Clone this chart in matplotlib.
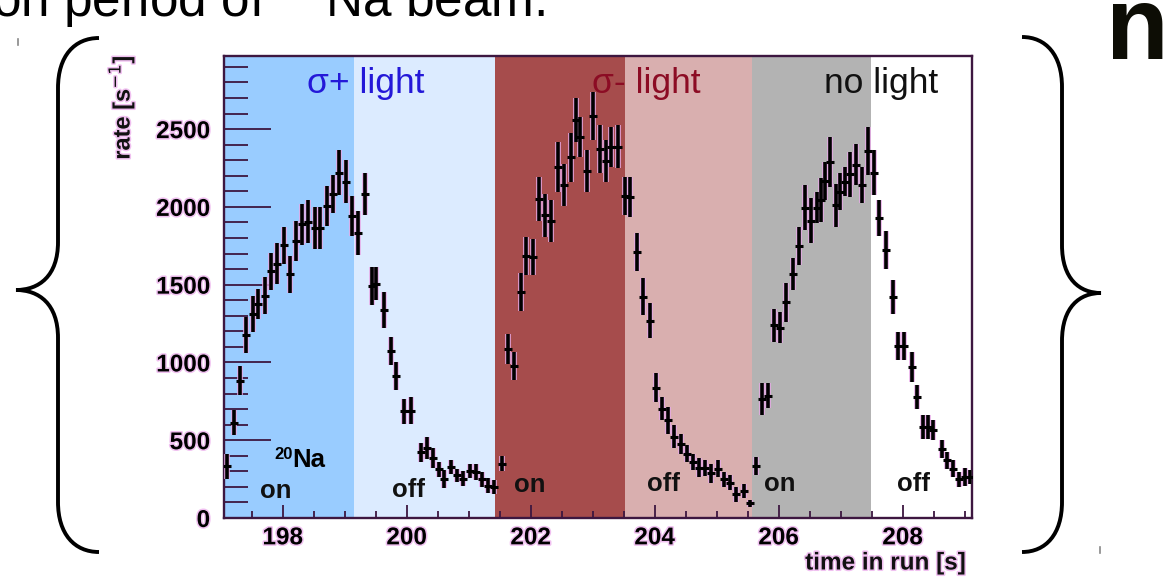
import matplotlib
matplotlib.use("Agg")
import matplotlib.pyplot as plt
import matplotlib.patheffects as pe
from matplotlib.path import Path
from matplotlib.patches import PathPatch
from matplotlib.lines import Line2D
from matplotlib.ticker import MultipleLocator

# ---- measured count rate (time in run [s], rate [1/s], error [1/s]) ----
time_s = [
    197.10, 197.21, 197.32, 197.41, 197.52, 197.61, 197.71, 197.82, 197.91, 198.02,
    198.12, 198.22, 198.31, 198.41, 198.52, 198.61, 198.72, 198.82, 198.91, 199.02,
    199.12, 199.22, 199.33, 199.44, 199.51, 199.63, 199.74, 199.83, 199.95, 200.07,
    200.23, 200.33, 200.42, 200.53, 200.61, 200.72, 200.82, 200.91, 201.02, 201.12,
    201.22, 201.32, 201.41, 201.54, 201.63, 201.73, 201.84, 201.93, 202.04, 202.13,
    202.23, 202.33, 202.44, 202.54, 202.65, 202.74, 202.80, 202.91, 203.01, 203.12,
    203.21, 203.30, 203.41, 203.52, 203.61, 203.71, 203.82, 203.92, 204.02, 204.12,
    204.22, 204.32, 204.42, 204.53, 204.62, 204.72, 204.82, 204.91, 205.02, 205.12,
    205.22, 205.32, 205.44, 205.54, 205.63, 205.74, 205.83, 205.92, 206.02, 206.12,
    206.23, 206.33, 206.42, 206.53, 206.62, 206.69, 206.75, 206.83, 206.92, 206.99,
    207.07, 207.15, 207.25, 207.34, 207.435, 207.54, 207.62, 207.73, 207.84, 207.92,
    208.02, 208.15, 208.24, 208.33, 208.41, 208.49, 208.63, 208.72, 208.82, 208.91,
    209.00, 209.09,
]
rate = [
    333, 612, 882, 1178, 1311, 1376, 1430, 1585, 1636, 1754,
    1566, 1780, 1888, 1904, 1866, 1864, 2006, 2083, 2220, 2161,
    1941, 1832, 2081, 1493, 1507, 1338, 1073, 912, 687, 690,
    422, 452, 388, 313, 251, 330, 274, 253, 302, 296,
    249, 206, 199, 349, 1089, 978, 1454, 1683, 1677, 2052,
    1947, 1910, 2258, 2140, 2318, 2558, 2449, 2232, 2586, 2371,
    2296, 2386, 2386, 2071, 2065, 1709, 1422, 1269, 838, 703,
    628, 523, 478, 414, 360, 324, 319, 287, 317, 249,
    227, 152, 176, 94, 332, 765, 787, 1239, 1224, 1387,
    1567, 1750, 1996, 1912, 1996, 2043, 2167, 2288, 2009, 2097,
    2163, 2210, 2272, 2142, 2360, 2221, 1927, 1722, 1422, 1106,
    1106, 971, 778, 585, 585, 564, 442, 371, 317, 249,
    262, 264,
]
rate_err = [
    80, 80, 93, 115, 115, 99, 120, 121, 129, 118,
    117, 129, 130, 139, 134, 136, 128, 121, 145, 139,
    128, 143, 134, 121, 107, 116, 91, 91, 80, 88,
    61, 70, 64, 48, 56, 45, 43, 49, 48, 49,
    48, 48, 47, 47, 96, 88, 122, 121, 115, 143,
    139, 134, 161, 134, 155, 139, 126, 134, 155, 155,
    134, 129, 139, 123, 129, 121, 118, 110, 91, 75,
    86, 73, 64, 54, 54, 59, 51, 62, 54, 48,
    48, 48, 45, 24, 57, 100, 83, 107, 102, 125,
    102, 123, 145, 143, 100, 140, 123, 159, 137, 118,
    94, 145, 132, 116, 155, 145, 116, 124, 111, 91,
    91, 96, 75, 75, 75, 64, 59, 54, 54, 48,
    57, 43,
]

# laser / beam phases: boundaries and fill colours
phase_edges = [197.0, 199.15, 201.42, 203.52, 205.575, 207.49]
phase_colors = ["#99ccff", "#dcebff", "#a64c4c", "#d9afaf", "#b3b3b3"]

W, H = 1166, 580
fig = plt.figure(figsize=(W / 100, H / 100), dpi=100)
fig.patch.set_facecolor("white")


def fx(px):
    return px / W


def fy(py):
    return 1 - py / H


ax = fig.add_axes([fx(224), fy(518), fx(972) - fx(224), fy(56) - fy(518)])
ax.set_xlim(197.054, 209.12)
ax.set_ylim(0, 2970)

for (a, b), c in zip(zip(phase_edges[:-1], phase_edges[1:]), phase_colors):
    ax.axvspan(a, b, color=c, lw=0, zorder=0)

halo = [pe.Stroke(linewidth=4.0, foreground="#e7a9e7"), pe.Normal()]
eb = ax.errorbar(time_s, rate, yerr=rate_err, fmt="none", ecolor="black",
                 elinewidth=2.6, capsize=0, zorder=3)
for lc in eb[2]:
    lc.set_path_effects(halo)
ax.plot(time_s, rate, ls="none", marker="_", ms=6, mew=2.2, color="black", zorder=4)

frame_col = "#3d1740"
for s in ax.spines.values():
    s.set_color(frame_col)
    s.set_linewidth(1.7)

ax.xaxis.set_major_locator(MultipleLocator(2))
ax.xaxis.set_minor_locator(MultipleLocator(0.5))
ax.yaxis.set_major_locator(MultipleLocator(500))
ax.yaxis.set_minor_locator(MultipleLocator(100))
ax.tick_params(axis="both", which="both", direction="in", colors=frame_col, width=1.3)
ax.tick_params(axis="y", which="major", length=34, pad=10)
ax.tick_params(axis="y", which="minor", length=17)
ax.tick_params(axis="x", which="major", length=9.5, pad=6)
ax.tick_params(axis="x", which="minor", length=5)
ax.tick_params(top=False, right=False)

lab_halo = [pe.withStroke(linewidth=2.2, foreground="#f0c0f0")]
for lab in ax.get_xticklabels() + ax.get_yticklabels():
    lab.set_fontfamily("Liberation Sans")
    lab.set_fontweight("bold")
    lab.set_fontsize(17.5)
    lab.set_color("black")
    lab.set_path_effects(lab_halo)

fig.text(fx(121), fy(55), "rate [s$^{-1}$]", rotation=90, ha="center", va="top",
         fontsize=17, fontweight="bold", family="Liberation Sans", color="#111111",
         path_effects=lab_halo)
fig.text(fx(966), fy(563), "time in run [s]", ha="right", va="center",
         fontsize=17.5, fontweight="bold", family="Liberation Sans", color="#111111",
         path_effects=lab_halo)

# phase captions
tr = ax.get_xaxis_transform()
ax.text(198.39, 0.92, "σ+ light", transform=tr, fontsize=25.5, color="#2418d8",
        family="Liberation Sans", va="baseline", zorder=5)
ax.text(202.99, 0.92, "σ- light", transform=tr, fontsize=25.5, color="#8c0c24",
        family="Liberation Sans", va="baseline", zorder=5)
ax.text(206.73, 0.92, "no light", transform=tr, fontsize=25.5, color="#111111",
        family="Liberation Sans", va="baseline", zorder=5)

# isotope tag: small raised "20" in front of "Na"
ax.text(198.16, 0.110, "Na", transform=tr, fontsize=18.5, fontweight="bold",
        family="Liberation Sans", va="baseline", ha="left", color="black", zorder=5)
ax.text(198.155, 0.127, "20", transform=tr, fontsize=12, fontweight="bold",
        family="Liberation Sans", va="baseline", ha="right", color="black", zorder=5)

onoff = [("on", 197.64, 0.043), ("off", 199.76, 0.045), ("on", 201.73, 0.057),
         ("off", 203.88, 0.058), ("on", 205.77, 0.058), ("off", 207.91, 0.058)]
for txt, xv, yv in onoff:
    ax.text(xv, yv, txt, transform=tr, fontsize=18.5, fontweight="bold",
            family="Liberation Sans", va="baseline", color="#111111", zorder=5)

# slide text around the plot
fig.text(fx(-8), fy(17), r"on period of $^{20}$Na beam.", fontsize=37,
         family="Liberation Sans", va="baseline", ha="left", color="black")
fig.text(fx(1106), fy(59), "n", fontsize=74, fontweight="bold",
         family="Liberation Sans", va="baseline", ha="left", color="#0d0d05")


def brace(x_end, x_mid, x_tip, y_top, y_tip, y_bot):
    r = 30
    verts = [
        (x_end, y_top),
        (x_mid + (x_end - x_mid) * 0.4, y_top), (x_mid, y_top + 18), (x_mid, y_top + 50),
        (x_mid, y_tip - r - 18),
        (x_mid, y_tip - 14), (x_mid + (x_tip - x_mid) * 0.45, y_tip), (x_tip, y_tip),
        (x_mid + (x_tip - x_mid) * 0.45, y_tip), (x_mid, y_tip + 14), (x_mid, y_tip + r + 18),
        (x_mid, y_bot - 50),
        (x_mid, y_bot - 18), (x_mid + (x_end - x_mid) * 0.4, y_bot), (x_end, y_bot),
    ]
    codes = [Path.MOVETO, Path.CURVE4, Path.CURVE4, Path.CURVE4, Path.LINETO,
             Path.CURVE4, Path.CURVE4, Path.CURVE4, Path.CURVE4, Path.CURVE4, Path.CURVE4,
             Path.LINETO, Path.CURVE4, Path.CURVE4, Path.CURVE4]
    verts = [(fx(x), fy(y)) for x, y in verts]
    fig.patches.append(PathPatch(Path(verts, codes), transform=fig.transFigure,
                                 fill=False, lw=2.8, edgecolor="black", capstyle="butt"))


brace(99, 58, 16, 38, 290, 552)
brace(1022, 1062, 1101, 37, 293, 552)

# small slide guide marks
for (x0, y0, y1) in [(18, 39, 45), (1100, 547, 553)]:
    fig.lines.append(Line2D([fx(x0), fx(x0)], [fy(y0), fy(y1)], transform=fig.transFigure,
                            color="#888888", lw=1.2))

fig.savefig("out.png", dpi=100, facecolor="white")
